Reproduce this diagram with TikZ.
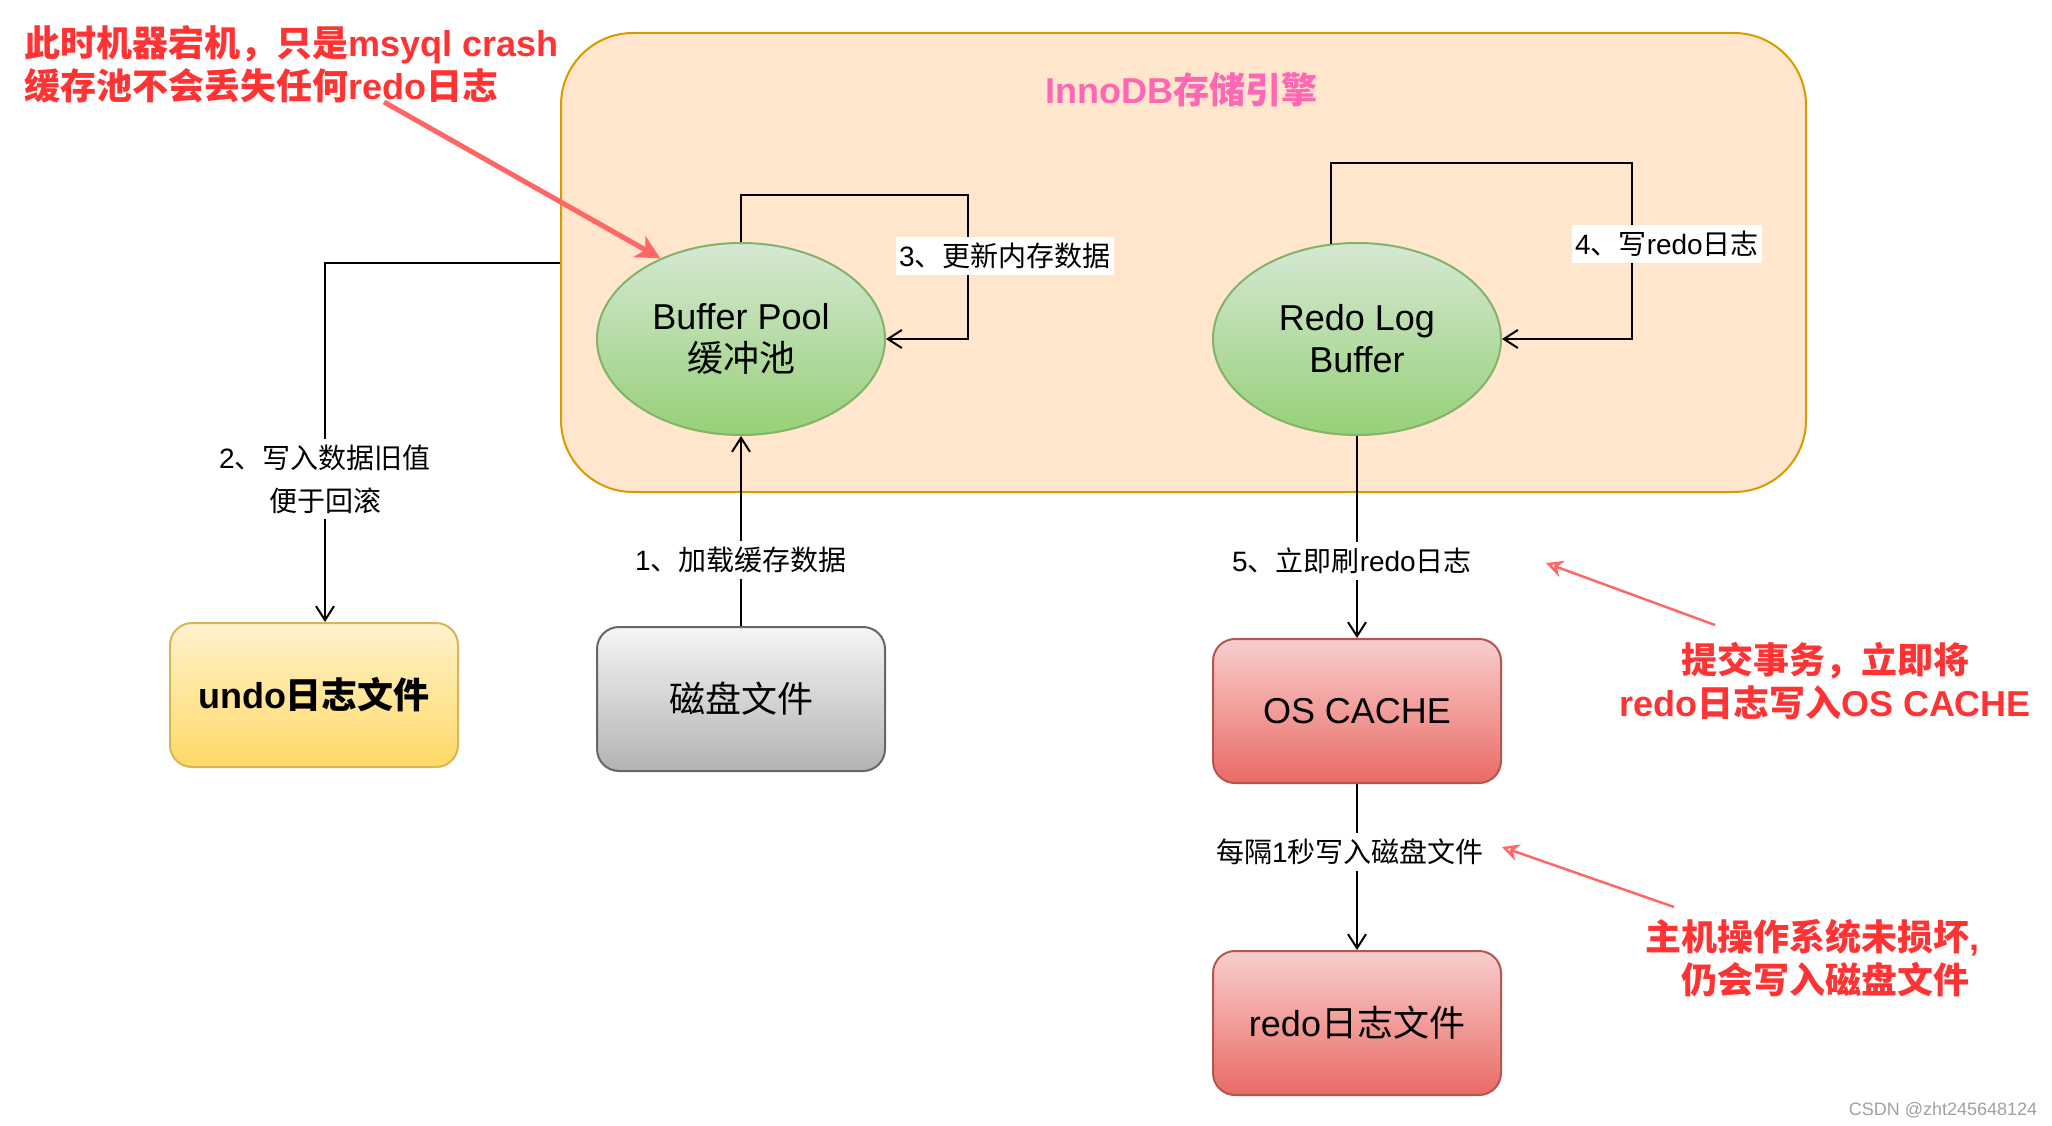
\documentclass[tikz,border=0pt]{standalone}
\usepackage{fontspec}
\setmainfont{Liberation Sans}
\newfontfamily\cjk{Noto Sans CJK SC}
\usetikzlibrary{shapes.geometric,arrows.meta,calc}
\definecolor{innofill}{HTML}{FFE6CC}
\definecolor{innoline}{HTML}{D79B00}
\definecolor{greenA}{HTML}{D5E8D4}
\definecolor{greenB}{HTML}{97D077}
\definecolor{greenline}{HTML}{82B366}
\definecolor{yellowA}{HTML}{FFF2CC}
\definecolor{yellowB}{HTML}{FFD966}
\definecolor{yellowline}{HTML}{D6B656}
\definecolor{grayA}{HTML}{F5F5F5}
\definecolor{grayB}{HTML}{B3B3B3}
\definecolor{grayline}{HTML}{666666}
\definecolor{redA}{HTML}{F8CECC}
\definecolor{redB}{HTML}{EA6B66}
\definecolor{redline}{HTML}{B85450}
\definecolor{notered}{HTML}{FF3333}
\definecolor{arrowred}{HTML}{FF6666}
\definecolor{titlepink}{HTML}{FF66B3}
\definecolor{markgray}{HTML}{A0A0A0}
\tikzset{
    box/.style={draw, line width=2pt, rounded corners=22pt, minimum width=288pt,
        minimum height=144pt, font=\fontsize{36}{42}\selectfont},
    pool/.style={ellipse, draw=greenline, line width=2pt, top color=greenA,
        bottom color=greenB, minimum width=288pt, minimum height=192pt,
        inner sep=0pt, align=center, font=\fontsize{36}{42}\selectfont},
    lbl/.style={fill=white, inner xsep=3pt, inner ysep=6pt, align=center,
        font=\fontsize{28}{43}\selectfont},
    note/.style={text=notered, inner sep=0pt, font=\bfseries\fontsize{36}{43}\selectfont},
    arr/.style={line width=2pt, -{Straight Barb[length=14pt,width=18pt]}},
    redarr/.style={draw=arrowred, line width=2.5pt, -{Stealth[open,length=17pt,width=17pt]}}
}
\begin{document}
\begin{tikzpicture}[x=1pt,y=-1pt]
    \useasboundingbox (0,0) rectangle (2052,1126);
    % storage engine
    \node[draw=innoline, fill=innofill, line width=2pt, rounded corners=72pt,
        minimum width=1245pt, minimum height=459pt] (innodb) at (1183.5, 262.5){};
        \node[text=titlepink, font=\bfseries\fontsize{36}{42}\selectfont] (title) at (1181, 90){InnoDB{\cjk 存储引擎}};
    \node[pool] (bp) at (741, 339){Buffer Pool\\{\cjk 缓冲池}};
    \node[pool] (rlb) at (1357, 339){Redo Log\\Buffer};
    % files
    \node[box, draw=yellowline, top color=yellowA, bottom color=yellowB,
        font=\bfseries\fontsize{36}{42}\selectfont] (undo) at (314, 695){undo{\cjk 日志文件}};
    \node[box, draw=grayline, top color=grayA, bottom color=grayB] (disk) at (741, 699){\cjk 磁盘文件};
    \node[box, draw=redline, top color=redA, bottom color=redB] (oscache) at (1357, 711){OS CACHE};
    \node[box, draw=redline, top color=redA, bottom color=redB] (redofile) at (1357, 1023){redo{\cjk 日志文件}};
    % flows
    \coordinate (bploop) at (968, 195);
    \coordinate (rlbloop) at (1632, 163);
    \draw[arr] (disk.north) -- (bp.south);
        \node[lbl] (l1) at (741, 560){1{\cjk 、加载缓存数据}};
    \draw[arr] (innodb.west) -| ($(undo.north)+(11,0)$);
        \node[lbl] (l2) at (325, 479){2{\cjk 、写入数据旧值}\\{\cjk 便于回滚}};
    \draw[arr] (bp.north) |- (bploop) |- (bp.east);
        \node[lbl] (l3) at (1005, 256){3{\cjk 、更新内存数据}};
    \draw[arr] (rlb.105) |- (rlbloop) |- (rlb.east);
        \node[lbl] (l4) at (1667, 244){4{\cjk 、写}redo{\cjk 日志}};
    \draw[arr] (rlb.south) -- (oscache.north);
        \node[lbl] (l5) at (1352, 561){5{\cjk 、立即刷}redo{\cjk 日志}};
    \draw[arr] (oscache.south) -- (redofile.north);
        \node[lbl] (l6) at (1350, 852){{\cjk 每隔}1{\cjk 秒写入磁盘文件}};
    % notes
    \node[note, anchor=west, align=left] (crash) at (24, 64){{\cjk 此时机器宕机，只是}msyql crash\\{\cjk 缓存池不会丢失任何}redo{\cjk 日志}};
    \node[note, align=center] (commit) at (1825, 681){{\cjk 提交事务，立即将}\\redo{\cjk 日志写入}OS CACHE};
    \node[note, align=center] (osok) at (1812, 958){{\cjk 主机操作系统未损坏},\\\hspace*{26pt}{\cjk 仍会写入磁盘文件}};
    \coordinate (crashtail) at (384, 102);
    \coordinate (committail) at (1715, 625);
    \coordinate (committip) at (1546, 563);
    \coordinate (osoktail) at (1674, 907);
    \coordinate (osoktip) at (1502, 847);
    \draw[draw=arrowred, line width=5pt, -{Stealth[length=24pt,width=24pt,inset=7pt]}] (crashtail) -- (bp.135);
    \draw[redarr] (committail) -- (committip);
    \draw[redarr] (osoktail) -- (osoktip);
    \node[text=markgray, font=\fontsize{18}{20}\selectfont] (mark) at (1943, 1110){CSDN @zht245648124};
\end{tikzpicture}
\end{document}
